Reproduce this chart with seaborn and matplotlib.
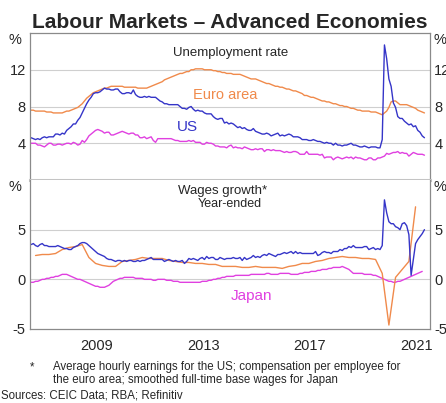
import numpy as np
import pandas as pd
import seaborn as sns
import matplotlib.pyplot as plt

# Unemployment rate, monthly from Jan 2007 (%)
us_unemp = [4.6, 4.5, 4.4, 4.5, 4.4, 4.6, 4.7, 4.6, 4.7, 4.7, 4.7, 5.0,
            5.0, 4.9, 5.1, 5.0, 5.4, 5.6, 5.8, 6.1, 6.1, 6.5, 6.8, 7.3,
            7.8, 8.3, 8.7, 9.0, 9.4, 9.5, 9.5, 9.6, 9.8, 10.0, 9.9, 9.9,
            9.8, 9.8, 9.9, 9.9, 9.6, 9.4, 9.4, 9.5, 9.5, 9.4, 9.8, 9.3,
            9.1, 9.0, 9.0, 9.1, 9.0, 9.1, 9.0, 9.0, 9.0, 8.8, 8.6, 8.5,
            8.3, 8.3, 8.2, 8.2, 8.2, 8.2, 8.2, 8.0, 7.8, 7.8, 7.7, 7.9,
            8.0, 7.7, 7.5, 7.6, 7.5, 7.5, 7.3, 7.2, 7.2, 7.2, 6.9, 6.7,
            6.6, 6.7, 6.7, 6.2, 6.3, 6.1, 6.2, 6.1, 5.9, 5.7, 5.8, 5.6,
            5.7, 5.5, 5.4, 5.4, 5.6, 5.3, 5.2, 5.1, 5.0, 5.0, 5.1, 5.0,
            4.8, 4.9, 5.0, 5.1, 4.8, 4.9, 4.8, 4.9, 5.0, 4.9, 4.7, 4.7,
            4.7, 4.6, 4.4, 4.4, 4.4, 4.3, 4.3, 4.4, 4.3, 4.2, 4.2, 4.1,
            4.0, 4.1, 4.0, 4.0, 3.8, 4.0, 3.8, 3.8, 3.7, 3.8, 3.8, 3.9,
            4.0, 3.8, 3.8, 3.7, 3.6, 3.6, 3.7, 3.6, 3.5, 3.6, 3.6, 3.6,
            3.5, 3.5, 4.4, 14.7, 13.2, 11.0, 10.2, 8.4, 7.9, 6.9, 6.7, 6.7,
            6.4, 6.2, 6.0, 6.1, 5.8, 5.9, 5.4, 5.2, 4.8, 4.6]
euro_unemp = [7.6, 7.6, 7.5, 7.5, 7.5, 7.5, 7.5, 7.4, 7.4, 7.4, 7.3, 7.3,
              7.3, 7.3, 7.3, 7.4, 7.5, 7.5, 7.6, 7.7, 7.8, 7.9, 8.1, 8.3,
              8.6, 8.9, 9.1, 9.3, 9.5, 9.6, 9.7, 9.8, 9.9, 10.0, 10.0, 10.1,
              10.2, 10.2, 10.2, 10.2, 10.2, 10.2, 10.1, 10.1, 10.1, 10.1, 10.1, 10.1,
              10.0, 10.0, 10.0, 10.0, 10.0, 10.1, 10.2, 10.3, 10.4, 10.5, 10.6, 10.7,
              10.9, 11.0, 11.1, 11.2, 11.3, 11.4, 11.5, 11.6, 11.6, 11.7, 11.8, 11.8,
              12.0, 12.0, 12.1, 12.1, 12.1, 12.1, 12.0, 12.0, 12.0, 12.0, 11.9, 11.9,
              11.8, 11.8, 11.7, 11.7, 11.6, 11.6, 11.6, 11.5, 11.5, 11.5, 11.5, 11.4,
              11.3, 11.2, 11.1, 11.0, 11.0, 11.0, 10.9, 10.8, 10.7, 10.6, 10.5, 10.5,
              10.4, 10.3, 10.2, 10.2, 10.1, 10.1, 10.0, 9.9, 9.9, 9.8, 9.7, 9.7,
              9.6, 9.5, 9.4, 9.2, 9.2, 9.1, 9.0, 9.0, 8.9, 8.8, 8.7, 8.6,
              8.6, 8.5, 8.5, 8.4, 8.3, 8.3, 8.2, 8.1, 8.1, 8.0, 8.0, 7.9,
              7.8, 7.8, 7.7, 7.6, 7.6, 7.5, 7.5, 7.5, 7.5, 7.4, 7.4, 7.4,
              7.3, 7.2, 7.1, 7.3, 7.5, 7.9, 8.5, 8.6, 8.6, 8.4, 8.2, 8.2,
              8.2, 8.2, 8.1, 8.0, 7.9, 7.8, 7.6, 7.5, 7.4, 7.3]
japan_unemp = [4.0, 4.0, 4.0, 3.8, 3.8, 3.7, 3.6, 3.8, 4.0, 4.0, 3.8, 3.8,
               3.9, 3.9, 3.8, 3.9, 4.0, 4.0, 3.9, 4.1, 4.0, 3.8, 3.9, 4.3,
               4.1, 4.4, 4.8, 5.0, 5.2, 5.4, 5.5, 5.4, 5.3, 5.1, 5.2, 5.2,
               4.9, 4.9, 5.0, 5.1, 5.2, 5.3, 5.2, 5.1, 5.0, 5.1, 5.1, 4.9,
               4.9, 4.6, 4.6, 4.7, 4.5, 4.6, 4.7, 4.3, 4.1, 4.5, 4.5, 4.5,
               4.5, 4.5, 4.5, 4.5, 4.4, 4.3, 4.3, 4.2, 4.2, 4.2, 4.2, 4.3,
               4.2, 4.3, 4.1, 4.1, 4.1, 3.9, 3.9, 4.1, 4.0, 4.0, 3.9, 3.7,
               3.7, 3.6, 3.6, 3.6, 3.5, 3.7, 3.8, 3.5, 3.6, 3.5, 3.5, 3.4,
               3.6, 3.5, 3.4, 3.3, 3.3, 3.4, 3.3, 3.4, 3.4, 3.1, 3.3, 3.3,
               3.2, 3.3, 3.2, 3.2, 3.2, 3.1, 3.0, 3.1, 3.0, 3.0, 3.1, 3.1,
               3.0, 2.8, 2.8, 2.8, 3.1, 2.8, 2.8, 2.8, 2.8, 2.8, 2.7, 2.8,
               2.4, 2.5, 2.5, 2.5, 2.2, 2.4, 2.5, 2.4, 2.3, 2.4, 2.5, 2.4,
               2.5, 2.3, 2.5, 2.4, 2.4, 2.3, 2.2, 2.2, 2.4, 2.4, 2.2, 2.2,
               2.4, 2.4, 2.5, 2.6, 2.9, 2.8, 2.9, 3.0, 3.0, 3.1, 2.9, 3.0,
               2.9, 2.9, 2.6, 2.8, 3.0, 2.9, 2.8, 2.8, 2.8, 2.7]

# Wages growth, year-ended (%)
us_wages = [3.5, 3.6, 3.4, 3.3, 3.5, 3.6, 3.4, 3.4, 3.3, 3.3, 3.3, 3.3,
            3.4, 3.3, 3.2, 3.1, 3.1, 3.0, 3.0, 3.2, 3.3, 3.4, 3.6, 3.7,
            3.7, 3.6, 3.4, 3.2, 3.0, 2.8, 2.6, 2.5, 2.4, 2.3, 2.1, 2.0,
            2.0, 1.9, 1.8, 1.9, 1.9, 1.8, 1.9, 1.8, 1.9, 1.9, 1.8, 1.8,
            1.9, 1.8, 1.9, 1.9, 2.0, 2.1, 2.2, 2.0, 2.0, 2.0, 2.0, 2.0,
            1.8, 1.9, 2.0, 1.9, 1.8, 1.9, 1.8, 1.8, 1.9, 1.6, 1.8, 2.1,
            2.0, 2.1, 2.0, 1.9, 2.1, 2.2, 2.0, 2.3, 2.1, 2.2, 2.2, 2.0,
            2.0, 2.2, 2.1, 2.0, 2.1, 2.1, 2.1, 2.2, 2.1, 2.1, 2.2, 1.9,
            2.2, 2.0, 2.1, 2.2, 2.4, 2.2, 2.3, 2.2, 2.4, 2.5, 2.4, 2.6,
            2.5, 2.4, 2.3, 2.5, 2.5, 2.6, 2.7, 2.6, 2.7, 2.8, 2.6, 2.8,
            2.6, 2.7, 2.6, 2.6, 2.6, 2.6, 2.6, 2.6, 2.8, 2.4, 2.5, 2.7,
            2.8, 2.7, 2.7, 2.6, 2.8, 2.8, 2.8, 3.0, 2.9, 3.1, 3.1, 3.3,
            3.2, 3.4, 3.2, 3.2, 3.2, 3.2, 3.3, 3.3, 3.0, 3.1, 3.2, 3.0,
            3.1, 3.0, 3.4, 8.0, 6.7, 5.8, 5.6, 5.6, 5.3, 5.2, 5.0, 5.6,
            5.7, 5.4, 4.5, 0.4, 2.0, 3.6, 4.0, 4.3, 4.6, 5.0]
japan_wages = [-0.3, -0.3, -0.2, -0.2, -0.1, 0.0, 0.0, 0.1, 0.1, 0.2, 0.2, 0.3,
               0.3, 0.4, 0.5, 0.5, 0.5, 0.4, 0.3, 0.2, 0.1, 0.0, 0.0, -0.1,
               -0.2, -0.3, -0.4, -0.5, -0.6, -0.7, -0.7, -0.8, -0.8, -0.8, -0.7, -0.6,
               -0.4, -0.2, -0.1, 0.0, 0.1, 0.1, 0.2, 0.2, 0.2, 0.2, 0.2, 0.1,
               0.1, 0.1, 0.1, 0.0, 0.0, 0.0, 0.0, -0.1, -0.1, 0.0, 0.0, 0.0,
               0.0, -0.1, -0.1, -0.1, -0.2, -0.2, -0.2, -0.3, -0.3, -0.3, -0.3, -0.3,
               -0.3, -0.3, -0.3, -0.3, -0.3, -0.2, -0.2, -0.2, -0.1, -0.1, 0.0, 0.0,
               0.1, 0.1, 0.2, 0.2, 0.3, 0.3, 0.3, 0.3, 0.4, 0.4, 0.4, 0.4,
               0.4, 0.4, 0.4, 0.5, 0.5, 0.5, 0.5, 0.5, 0.5, 0.5, 0.6, 0.6,
               0.5, 0.5, 0.5, 0.5, 0.6, 0.6, 0.6, 0.6, 0.6, 0.5, 0.5, 0.5,
               0.5, 0.6, 0.6, 0.7, 0.7, 0.7, 0.8, 0.8, 0.8, 0.9, 0.9, 1.0,
               1.0, 1.0, 1.1, 1.1, 1.2, 1.2, 1.2, 1.2, 1.3, 1.2, 1.1, 1.0,
               0.8, 0.6, 0.6, 0.6, 0.6, 0.6, 0.5, 0.5, 0.5, 0.5, 0.4, 0.4,
               0.3, 0.2, 0.1, 0.0, -0.1, -0.2, -0.2, -0.3, -0.3, -0.2, -0.2, -0.1,
               0.0, 0.1, 0.2, 0.3, 0.4, 0.5, 0.6, 0.7, 0.8]
# quarterly from 2007 Q1
euro_wages = [2.4, 2.5, 2.5, 2.6,
              3.0, 3.2, 3.3, 3.5,
              2.2, 1.6, 1.4, 1.3,
              1.3, 1.8, 1.9, 2.0,
              2.2, 2.1, 2.1, 2.1,
              1.9, 1.8, 1.7, 1.7,
              1.6, 1.6, 1.5, 1.5,
              1.3, 1.3, 1.3, 1.2,
              1.2, 1.3, 1.2, 1.2,
              1.2, 1.1, 1.3, 1.4,
              1.6, 1.6, 1.8, 1.9,
              2.1, 2.2, 2.3, 2.2,
              2.2, 2.1, 2.1, 2.0,
              0.6, -4.6, 0.2, 1.0,
              1.8, 7.3]

year_labels = ['2009', '2013', '2017', '2021']

US_C = '#3535c8'
EURO_C = '#f08a4b'
JAPAN_C = '#e040e0'
GRID_C = '#cfcfcf'

def monthly_x(vals):
    d = pd.date_range('2007-01-01', periods=len(vals), freq='MS')
    return np.asarray(d.year + (d.month - 0.5) / 12)

def quarterly_x(vals):
    d = pd.date_range('2007-03-01', periods=len(vals), freq='QS-MAR')
    return np.asarray(d.year + (d.month - 0.5) / 12)

sns.set_style('white')
plt.rcParams['font.family'] = ['Liberation Sans', 'DejaVu Sans']

W, H = 446, 403
fig = plt.figure(figsize=(W / 100, H / 100), dpi=100)
L, R = 30, 430
ax1 = fig.add_axes([L / W, 1 - 180 / H, (R - L) / W, 147 / H])
ax2 = fig.add_axes([L / W, 1 - 329 / H, (R - L) / W, 149 / H])

lw = 1.0
sns.lineplot(x=monthly_x(euro_unemp), y=euro_unemp, ax=ax1, color=EURO_C, lw=lw)
sns.lineplot(x=monthly_x(japan_unemp), y=japan_unemp, ax=ax1, color=JAPAN_C, lw=lw)
sns.lineplot(x=monthly_x(us_unemp), y=us_unemp, ax=ax1, color=US_C, lw=lw)

sns.lineplot(x=monthly_x(japan_wages), y=japan_wages, ax=ax2, color=JAPAN_C, lw=lw)
sns.lineplot(x=quarterly_x(euro_wages), y=euro_wages, ax=ax2, color=EURO_C, lw=lw)
sns.lineplot(x=monthly_x(us_wages), y=us_wages, ax=ax2, color=US_C, lw=lw)

FS = 10.5
for ax, lim, ticks in [(ax1, (0, 16), [4, 8, 12]), (ax2, (-5, 10), [-5, 0, 5])]:
    ax.set_xlabel('')
    ax.set_ylabel('')
    ax.set_xlim(2007, 2022)
    ax.set_ylim(*lim)
    ax.set_yticks(ticks)
    ax.set_yticklabels([str(t) for t in ticks])
    ax.tick_params(axis='y', length=0, labelsize=FS, labelright=True, pad=3)
    for t in ticks:
        if t != lim[0]:
            ax.axhline(t, color=GRID_C, lw=0.8, zorder=0)
    for s in ['left', 'right']:
        ax.spines[s].set_color('#8a8a8a')
        ax.spines[s].set_linewidth(0.9)
    ax.text(-0.022, 0.955, '%', transform=ax.transAxes,
            ha='right', va='center', fontsize=FS)
    ax.text(1.008, 0.955, '%', transform=ax.transAxes,
            ha='left', va='center', fontsize=FS)

ax1.spines['top'].set_color('#8a8a8a')
ax1.spines['top'].set_linewidth(0.9)
ax1.spines['bottom'].set_color('#c4c4c4')
ax1.spines['bottom'].set_linewidth(2.2)
ax1.set_xticks([])
ax2.spines['top'].set_visible(False)
ax2.spines['bottom'].set_color('#8a8a8a')
ax2.spines['bottom'].set_linewidth(0.9)

ax2.set_xticks(np.arange(2008, 2022))
ax2.set_xticklabels([])
ax2.tick_params(axis='x', which='major', direction='in', length=4, color='#8a8a8a', width=0.8)
ax2.set_xticks([int(y) + 0.5 for y in year_labels], minor=True)
ax2.set_xticklabels(year_labels, minor=True)
ax2.tick_params(axis='x', which='minor', length=0, labelsize=FS, pad=7)

def fig_text(x, y, s, **kw):
    fig.text(x / W, 1 - y / H, s, **kw)

fig_text(230, 28, 'Labour Markets \u2013 Advanced Economies', ha='center', va='baseline',
         fontsize=15, fontweight='bold')
fig_text(231, 56, 'Unemployment rate', ha='center', va='baseline', fontsize=9.5)
fig_text(225, 99, 'Euro area', ha='center', va='baseline', fontsize=10.5, color=EURO_C)
fig_text(187, 131, 'US', ha='center', va='baseline', fontsize=11, color=US_C)
fig_text(223, 194, 'Wages growth*', ha='center', va='baseline', fontsize=9.5)
fig_text(230, 207, 'Year-ended', ha='center', va='baseline', fontsize=9)
fig_text(251, 300, 'Japan', ha='center', va='baseline', fontsize=11, color=JAPAN_C)

FN = 8.3
fig_text(30, 370, '*', ha='left', va='baseline', fontsize=FN)
fig_text(53, 370, 'Average hourly earnings for the US; compensation per employee for',
         ha='left', va='baseline', fontsize=FN)
fig_text(53, 383, 'the euro area; smoothed full-time base wages for Japan',
         ha='left', va='baseline', fontsize=FN)
fig_text(1, 399, 'Sources: CEIC Data; RBA; Refinitiv', ha='left', va='baseline', fontsize=FN)

fig.savefig('out.png', dpi=100)
